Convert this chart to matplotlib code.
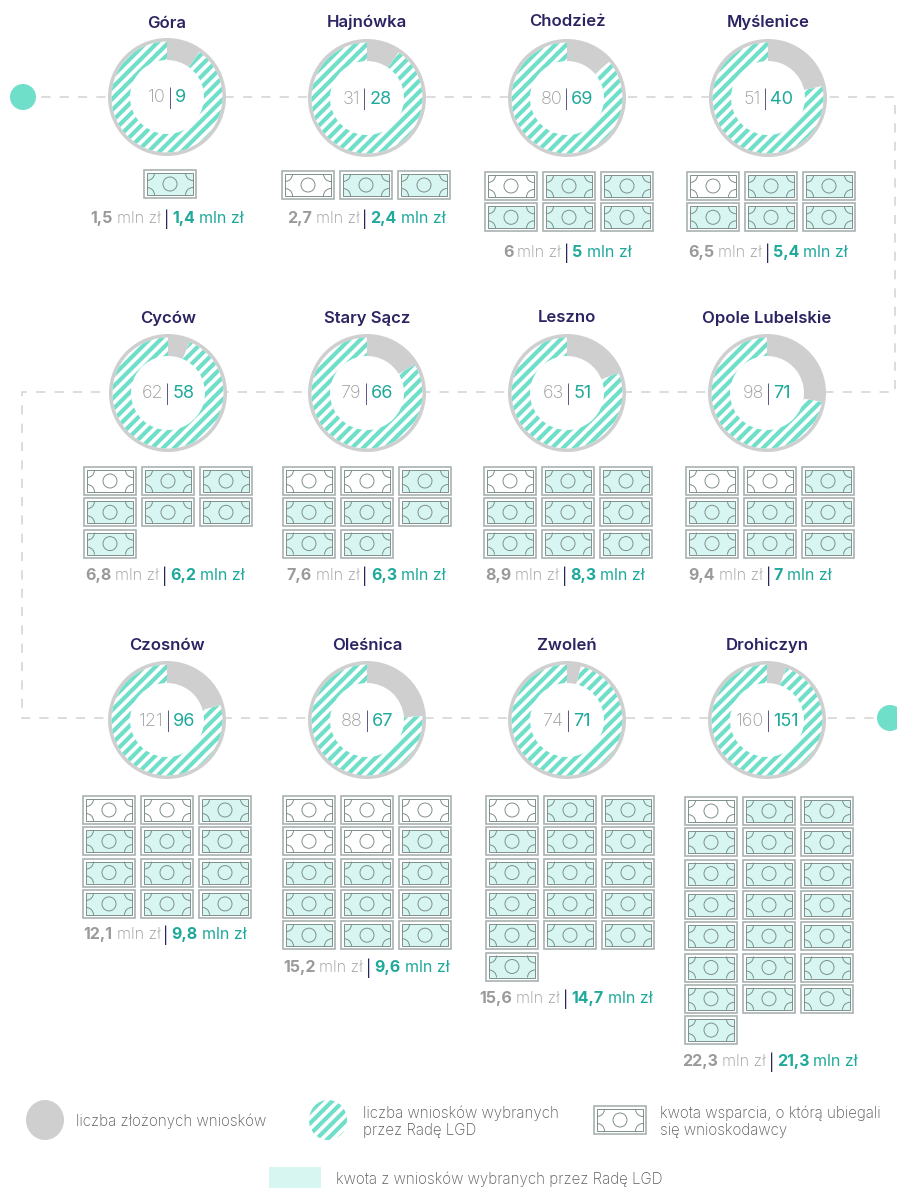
import matplotlib
matplotlib.use("Agg")
import matplotlib.pyplot as plt
from matplotlib.patches import Wedge, Rectangle, Circle, Arc, Ellipse

plt.rcParams["font.family"] = ["Inter", "DejaVu Sans"]
plt.rcParams["hatch.linewidth"] = 3.0

# data
cities = ["Góra", "Hajnówka", "Chodzież", "Myślenice",
          "Cyców", "Stary Sącz", "Leszno", "Opole Lubelskie",
          "Czosnów", "Oleśnica", "Zwoleń", "Drohiczyn"]
submitted = [10, 31, 80, 51, 62, 79, 63, 98, 121, 88, 74, 160]
selected = [9, 28, 69, 40, 58, 66, 51, 71, 96, 67, 71, 151]
amount_sub = ["1,5", "2,7", "6", "6,5", "6,8", "7,6", "8,9", "9,4", "12,1", "15,2", "15,6", "22,3"]
amount_sel = ["1,4", "2,4", "5", "5,4", "6,2", "6,3", "8,3", "7", "9,8", "9,6", "14,7", "21,3"]
notes_total = [1, 3, 6, 6, 7, 8, 9, 9, 12, 15, 16, 22]
notes_empty = [0, 1, 1, 1, 1, 2, 1, 2, 2, 5, 1, 1]

# layout (pixels)
donut_x = [167, 367, 567, 768, 168, 367, 567, 767, 167, 367, 567, 767]
donut_y = [97, 98, 98, 98, 393, 393, 393, 393, 720, 720, 720, 720]
title_y = [23, 22, 22, 22, 318, 318, 318, 318, 645, 646, 646, 645]
notes_left = [144, 282, 485, 687, 84, 283, 484, 686, 83, 283, 486, 685]
notes_top = [170, 171, 172, 172, 467, 467, 467, 467, 796, 796, 796, 797]
label_x = [167, 366, 567, 768, 165, 366, 565, 760, 165, 366, 566, 770]
label_y = [217, 217, 251, 251, 574, 574, 574, 574, 933, 966, 997, 1060]

GREY = "#cfcfcf"
TEAL = "#6fdfca"
LIGHT = "#d8f6f1"
NAVY = "#2b2462"
TXT_GREY = "#9a9a9a"
TXT_TEAL = "#1fa99b"
NOTE_EDGE = "#7f8f8c"

fig = plt.figure(figsize=(8.97, 11.88), dpi=100)
ax = fig.add_axes([0, 0, 1, 1])
ax.set_xlim(0, 897)
ax.set_ylim(1188, 0)
ax.axis("off")


def draw_note(x, y, filled, w=52, h=28):
    face = LIGHT if filled else "white"
    ax.add_patch(Rectangle((x, y), w, h, fc="white", ec="#a9b3b1", lw=1.2, zorder=3))
    ax.add_patch(Rectangle((x + 3, y + 3), w - 6, h - 6, fc=face, ec=NOTE_EDGE, lw=0.7, zorder=3))
    ax.add_patch(Circle((x + w / 2, y + h / 2), 7, fc="none", ec=NOTE_EDGE, lw=0.7, zorder=4))
    for cx, cy, a in [(x + 3, y + 3, 0), (x + w - 3, y + 3, 90),
                      (x + w - 3, y + h - 3, 180), (x + 3, y + h - 3, 270)]:
        ax.add_patch(Arc((cx, cy), 15, 15, theta1=a, theta2=a + 90, ec=NOTE_EDGE, lw=0.7, zorder=4))


def draw_runs(x, y, runs, size):
    # centred line made of differently styled pieces, each with its own gap after it
    r = fig.canvas.get_renderer()
    arts, widths = [], []
    for s, color, weight, gap in runs:
        t = ax.text(0, y, s, color=color, fontweight=weight, fontsize=size,
                    ha="left", va="center_baseline", zorder=5)
        arts.append(t)
        widths.append(t.get_window_extent(r).width + gap)
    cur = x - sum(widths) / 2
    for t, w in zip(arts, widths):
        t.set_x(cur)
        cur += w


# dashed path linking the rows
path_x = [23, 895, 895, 22, 22, 895]
path_y = [97, 97, 392, 392, 718, 718]
ax.plot(path_x, path_y, color="#d2d2d2", lw=1.1, dashes=(6, 6), zorder=1)
ax.add_patch(Circle((23, 97), 13, fc=TEAL, ec="none", zorder=2))
ax.add_patch(Circle((890, 718), 13, fc=TEAL, ec="none", zorder=2))

for i, city in enumerate(cities):
    cx, cy = donut_x[i], donut_y[i]
    ax.text(cx, title_y[i], city, color=NAVY, fontweight="semibold", fontsize=12,
            ha="center", va="center", zorder=5)

    gap = (1 - selected[i] / submitted[i]) * 360
    ax.add_patch(Circle((cx, cy), 58, fc="white", ec="none", zorder=2))
    ax.add_patch(Wedge((cx, cy), 59, 0, 360, width=4, fc=GREY, ec="none", zorder=3))
    ax.add_patch(Wedge((cx, cy), 57, -90, -90 + gap, width=20, fc=GREY, ec="none", zorder=3))
    ax.add_patch(Wedge((cx, cy), 55.5, -90 + gap, 270, width=18.5, fc="white",
                       ec=TEAL, hatch="///", lw=0, zorder=3))

    draw_runs(cx, cy - 1, [(str(submitted[i]), TXT_GREY, "light", 2), ("|", NAVY, "light", 2),
                           (str(selected[i]), TXT_TEAL, "normal", 0)], 13)

    for n in range(notes_total[i]):
        row, col = divmod(n, 3)
        draw_note(notes_left[i] + col * 58, notes_top[i] + row * 31.3, n >= notes_empty[i])

    draw_runs(label_x[i], label_y[i],
              [(amount_sub[i], TXT_GREY, "bold", 4), ("mln zł", TXT_GREY, "light", 3),
               ("|", NAVY, "normal", 3), (amount_sel[i], TXT_TEAL, "bold", 4),
               ("mln zł", TXT_TEAL, "normal", 0)], 11.5)

# legend
ax.add_patch(Ellipse((45, 1120), 38, 40, fc=GREY, ec="none"))
ax.add_patch(Ellipse((328, 1120), 38, 40, fc="white", ec=TEAL, hatch="///", lw=0))
draw_note(594, 1106, False)
ax.add_patch(Rectangle((269, 1167), 52, 21, fc=LIGHT, ec="none"))

leg = dict(color="#5c5c5c", fontsize=10.9, va="center", ha="left", fontweight="light")
ax.text(76, 1121, "liczba złożonych wniosków", **leg)
ax.text(363, 1113, "liczba wniosków wybranych", **leg)
ax.text(363, 1130, "przez Radę LGD", **leg)
ax.text(660, 1113, "kwota wsparcia, o którą ubiegali", **leg)
ax.text(660, 1130, "się wnioskodawcy", **leg)
ax.text(336, 1179, "kwota z wniosków wybranych przez Radę LGD", **leg)

fig.savefig("out.png", dpi=100)
